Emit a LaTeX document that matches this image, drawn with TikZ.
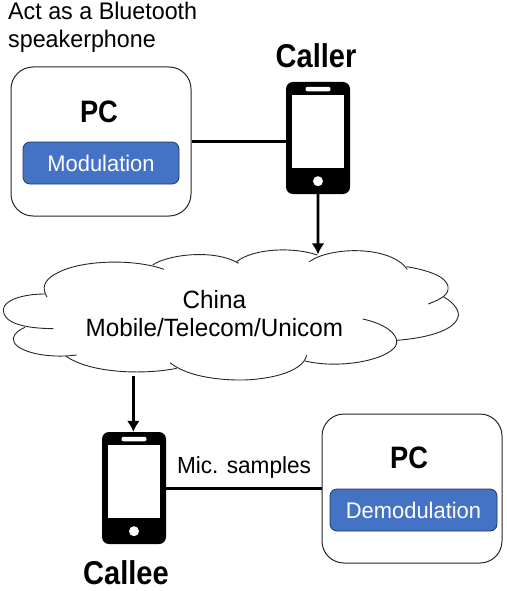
\documentclass[tikz,border=0pt]{standalone}
\usepackage{fontspec}
\setmainfont{Liberation Sans}
\newfontfamily\headf{Liberation Sans}[BoldFeatures={FakeStretch=0.88},FakeStretch=0.88]
\newfontfamily\bodyf{Liberation Sans}[FakeStretch=0.97]
\definecolor{modblue}{RGB}{68,114,196}
\definecolor{modedge}{RGB}{32,56,100}
\usetikzlibrary{arrows.meta}
\tikzset{
  pcbox/.style={draw=black!85,line width=1pt,rounded corners=22pt,inner sep=0pt,fill=white},
  funcbox/.style={draw=modedge,line width=0.8pt,fill=modblue,rounded corners=7pt,inner sep=0pt,text=white,font=\bodyf\fontsize{22.6}{22.6}\selectfont},
  phonebody/.style={fill=black,rounded corners=7pt,inner sep=0pt,minimum width=64pt,minimum height=112pt},
  heading/.style={font=\headf\bfseries\fontsize{31}{31}\selectfont,inner sep=0pt},
  namelabel/.style={font=\headf\bfseries\fontsize{33}{33}\selectfont,inner sep=0pt},
  plain/.style={font=\bodyf\fontsize{24}{28}\selectfont,inner sep=0pt,align=center},
  miclabel/.style={font=\bodyf\fontsize{23.3}{28}\selectfont,inner sep=0pt},
  cloudtext/.style={font=\bodyf\fontsize{25}{28}\selectfont,inner sep=0pt,align=center},
  link/.style={line width=2.8pt,black},
  flow/.style={line width=2.8pt,black,-{Latex[length=11pt,width=13pt]}},
  cloudline/.style={line width=0.9pt,black!85}
}
\newcommand{\phonedetail}[1]{%
  \fill[white] ([shift={(6pt,-13pt)}]#1.north west) rectangle ([shift={(-6pt,26pt)}]#1.south east);
  \fill[white,rounded corners=2pt] ([shift={(-12.5pt,-5pt)}]#1.north) rectangle ([shift={(12.5pt,-9.5pt)}]#1.north);
  \fill[white] ([yshift=13pt]#1.south) circle (5pt);
}
\begin{document}
\begin{tikzpicture}[x=1pt,y=1pt]
\useasboundingbox (0,0) rectangle (506,-591);
\node[plain,anchor=west,align=left] (note) at (8,-27) {Act as a Bluetooth\\speakerphone};
\node[pcbox,minimum width=180pt,minimum height=149pt] (pcA) at (101,-141.5) {};
\node[heading] (pcAt) at (99,-112) {PC};
\node[funcbox,minimum width=156pt,minimum height=42pt] (mod) at (101,-163) {Modulation};
\node[phonebody] (caller) at (318,-138) {};
\phonedetail{caller}
\node[namelabel] (callerT) at (316,-56) {Caller};
\begin{scope}[shift={(0pt,-230pt)},x=0.33333pt,y=-0.33333pt]
\draw[cloudline] (160,296) .. controls (60,295) and (10,275) .. (10,240) .. controls (10,210) and (70,192) .. (135,192);
\draw[cloudline] (141,201) .. controls (125,175) and (130,150) .. (170,130) .. controls (240,90) and (400,85) .. (492,118);
\draw[cloudline] (458,105) .. controls (500,75) and (640,55) .. (716,100);
\draw[cloudline] (710,95) .. controls (760,55) and (880,50) .. (952,75);
\draw[cloudline] (928,95) .. controls (990,50) and (1170,45) .. (1222,118);
\draw[cloudline] (1220,110) .. controls (1310,125) and (1350,150) .. (1344,180) .. controls (1340,200) and (1310,212) .. (1285,222);
\draw[cloudline] (1330,200) .. controls (1365,220) and (1380,245) .. (1374,262) .. controls (1360,305) and (1270,325) .. (1190,331);
\draw[cloudline] (1088,267) .. controls (1150,280) and (1195,310) .. (1190,340) .. controls (1180,385) and (1030,420) .. (915,393);
\draw[cloudline] (920,375) .. controls (910,430) and (790,452) .. (710,450) .. controls (620,448) and (550,430) .. (510,398);
\draw[cloudline] (530,415) .. controls (430,435) and (270,430) .. (197,378);
\draw[cloudline] (230,375) .. controls (130,388) and (35,360) .. (40,325) .. controls (42,310) and (60,298) .. (75,292);
\coordinate (cloudIn) at (954,73);
\coordinate (cloudOut) at (400,437);
\node[cloudtext] (cloudT) at (643,250) {China\\Mobile/Telecom/Unicom};
\end{scope}
\node[phonebody] (callee) at (134,-488) {};
\phonedetail{callee}
\node[namelabel] (calleeT) at (126,-573) {Callee};
\node[pcbox,minimum width=180pt,minimum height=149pt] (pcB) at (412,-488.5) {};
\node[heading] (pcBt) at (409,-458) {PC};
\node[funcbox,minimum width=167pt,minimum height=42pt] (demod) at (413.5,-510) {Demodulation};
\node[miclabel] (mic) at (244,-467) {Mic. samples};
\draw[link] (pcA.east |- mod.north) -- (caller.west |- mod.north);
\draw[link] (callee.east |- demod.north) -- (pcB.west |- demod.north);
\draw[flow] (caller.south) -- (cloudIn);
\draw[flow] (cloudOut) -- (cloudOut |- callee.north);
\end{tikzpicture}
\end{document}
